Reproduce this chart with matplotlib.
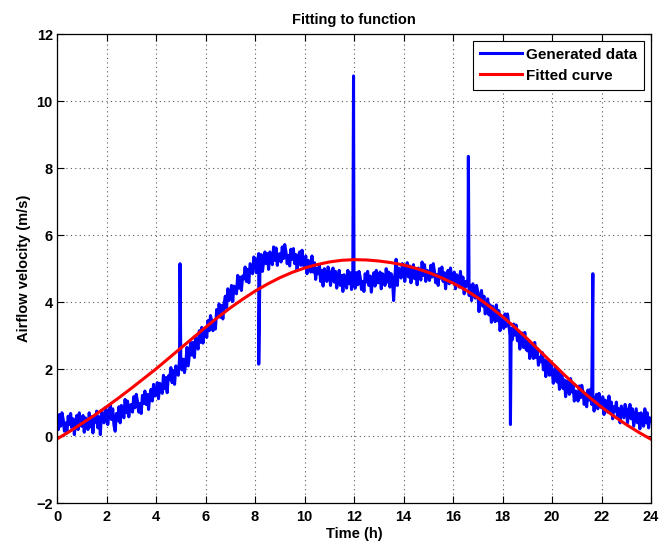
import numpy as np
import matplotlib
matplotlib.use('Agg')
import matplotlib.pyplot as plt

plt.rcParams['font.family'] = ['Liberation Sans', 'DejaVu Sans']
plt.rcParams['font.weight'] = 'bold'

t_data = np.linspace(0, 24, 481)
v_data = [
    # 0 h
    0.45, 0.20, 0.65, 0.30, 0.70, 0.50, 0.15, 0.40, 0.10, 0.60,
    0.35, 0.68, 0.25, 0.52, 0.05, 0.43, 0.62, 0.20, 0.70, 0.32,
    # 1 h
    0.30, 0.62, 0.12, 0.55, 0.42, 0.20, 0.70, 0.28, 0.58, 0.10,
    0.53, 0.42, 0.75, 0.25, 0.58, 0.05, 0.72, 0.58, 0.40, 0.85,
    # 2 h
    0.78, 0.35, 0.70, 0.92, 0.50, 0.82, 0.33, 0.15, 0.68, 0.48,
    0.88, 0.40, 0.92, 0.80, 0.55, 1.10, 0.70, 1.05, 0.58, 0.92,
    # 3 h
    0.95, 0.72, 1.18, 0.85, 1.25, 1.05, 0.72, 0.98, 0.68, 1.22,
    0.98, 1.35, 0.95, 1.25, 0.80, 1.22, 1.40, 1.05, 1.55, 1.20,
    # 4 h
    1.25, 1.60, 1.12, 1.58, 1.47, 1.28, 1.82, 1.42, 1.75, 1.30,
    1.80, 1.70, 2.05, 1.60, 1.95, 1.55, 2.10, 1.98, 1.82, 2.30,
    # 5 h
    2.38, 1.98, 2.30, 1.90, 2.18, 2.65, 2.10, 2.45, 2.80, 2.42,
    2.80, 2.35, 2.95, 2.75, 2.60, 3.15, 2.80, 3.25, 2.78, 3.15,
    # 6 h
    3.15, 2.95, 3.45, 3.15, 3.60, 3.45, 3.15, 3.45, 3.20, 3.78,
    3.58, 3.95, 3.55, 3.90, 3.50, 3.95, 4.18, 3.82, 4.40, 4.05,
    # 7 h
    4.15, 4.50, 4.02, 4.48, 4.40, 4.25, 4.80, 4.42, 4.75, 4.35,
    4.78, 4.70, 5.05, 4.62, 4.98, 4.58, 5.15, 5.00, 4.85, 5.35,
    # 8 h
    5.30, 4.88, 5.22, 5.45, 5.05, 5.42, 4.92, 5.20, 5.50, 5.15,
    5.45, 4.98, 5.50, 5.35, 5.12, 5.65, 5.25, 5.62, 5.10, 5.42,
    # 9 h
    5.45, 5.20, 5.65, 5.30, 5.72, 5.50, 5.15, 5.40, 5.08, 5.58,
    5.28, 5.60, 5.15, 5.42, 4.95, 5.35, 5.50, 5.10, 5.55, 5.12,
    # 10 h
    5.05, 5.38, 4.85, 5.25, 5.15, 4.90, 5.38, 4.90, 5.18, 4.68,
    5.00, 4.85, 5.12, 4.62, 4.95, 4.48, 5.00, 4.82, 4.62, 5.05,
    # 11 h
    4.92, 4.50, 4.82, 5.02, 4.60, 4.92, 4.42, 4.65, 4.95, 4.50,
    4.80, 4.32, 4.82, 4.68, 4.42, 4.95, 4.55, 4.88, 4.38, 4.70,
    # 12 h
    4.68, 4.42, 4.88, 4.52, 4.92, 4.75, 4.38, 4.62, 4.32, 4.85,
    4.60, 4.92, 4.50, 4.78, 4.30, 4.70, 4.88, 4.48, 4.95, 4.58,
    # 13 h
    4.58, 4.90, 4.40, 4.85, 4.72, 4.50, 5.00, 4.60, 4.90, 4.45,
    4.85, 4.72, 4.05, 4.75, 5.28, 4.50, 5.02, 4.92, 4.72, 5.15,
    # 14 h
    5.05, 4.62, 4.95, 5.18, 4.75, 5.08, 4.58, 4.82, 5.12, 4.70,
    5.00, 4.52, 5.02, 4.90, 4.66, 5.20, 4.80, 5.12, 4.62, 4.95,
    # 15 h
    4.90, 4.65, 5.10, 4.75, 5.15, 4.92, 4.58, 4.82, 4.50, 5.00,
    4.72, 5.05, 4.62, 4.88, 4.40, 4.80, 4.95, 4.55, 5.02, 4.65,
    # 16 h
    4.60, 4.90, 4.40, 4.82, 4.68, 4.45, 4.92, 4.48, 4.75, 4.25,
    4.62, 4.48, 4.70, 4.20, 4.50, 4.05, 4.55, 4.35, 4.12, 4.50,
    # 17 h
    4.30, 3.72, 4.15, 4.35, 3.88, 4.18, 3.65, 3.85, 4.10, 3.62,
    3.92, 3.40, 3.88, 3.70, 3.42, 3.92, 3.45, 3.75, 3.15, 3.50,
    # 18 h
    3.50, 3.22, 3.65, 3.28, 3.65, 3.38, 3.00, 3.22, 2.88, 3.35,
    3.02, 3.32, 2.85, 3.08, 2.60, 2.95, 3.08, 2.65, 3.10, 2.60,
    # 19 h
    2.55, 2.85, 2.32, 2.72, 2.58, 2.32, 2.80, 2.35, 2.62, 2.12,
    2.35, 2.22, 2.50, 1.98, 2.28, 1.78, 2.25, 2.05, 1.82, 2.20,
    # 20 h
    2.02, 1.58, 1.88, 2.08, 1.62, 1.92, 1.40, 1.62, 1.88, 1.42,
    1.68, 1.18, 1.65, 1.48, 1.25, 1.72, 1.32, 1.55, 1.05, 1.35,
    # 21 h
    1.30, 1.05, 1.50, 1.15, 1.52, 1.32, 0.95, 1.20, 0.88, 1.38,
    1.08, 1.40, 0.95, 1.22, 0.75, 1.10, 1.25, 0.82, 1.28, 0.90,
    # 22 h
    0.85, 1.18, 0.65, 1.08, 0.95, 0.72, 1.20, 0.75, 1.02, 0.52,
    0.88, 0.75, 1.02, 0.55, 0.82, 0.40, 0.90, 0.72, 0.55, 0.95,
    # 23 h
    0.82, 0.40, 0.72, 0.95, 0.52, 0.82, 0.30, 0.55, 0.82, 0.40,
    0.68, 0.22, 0.70, 0.55, 0.30, 0.82, 0.40, 0.70, 0.25, 0.55,
    # 24 h
    0.45,
]

# single-sample outliers in the generated data
t_spike = [4.97, 8.15, 11.98, 16.62, 18.32, 21.65]
v_spike = [5.15, 2.15, 10.75, 8.35, 0.35, 4.85]

# fitted curve, read every half hour
t_fit = np.linspace(0, 24, 49)
v_fit = [-0.08, 0.14, 0.38, 0.62, 0.88, 1.15, 1.43, 1.72, 2.01, 2.32,
         2.63, 2.94, 3.25, 3.55, 3.83, 4.09, 4.33, 4.54, 4.73, 4.89,
         5.02, 5.12, 5.20, 5.25, 5.27, 5.26, 5.23, 5.18, 5.11, 5.01,
         4.89, 4.74, 4.57, 4.37, 4.13, 3.86, 3.57, 3.25, 2.91, 2.55,
         2.19, 1.83, 1.49, 1.17, 0.87, 0.60, 0.35, 0.12, -0.09]

# merge spikes into the sampled series
t_all = np.concatenate([t_data, t_spike])
v_all = np.concatenate([v_data, v_spike])
order = np.argsort(t_all, kind='stable')
t_all = t_all[order]
v_all = v_all[order]

fig = plt.figure(figsize=(6.6, 5.45), dpi=100)
ax = fig.add_axes([0.0864, 0.0765, 0.9, 0.861])

ax.plot(t_all, v_all, color='#0000ff', linewidth=2.2, label='Generated data')
ax.plot(t_fit, v_fit, color='#ff0000', linewidth=2.2, label='Fitted curve')

ax.set_xlim(0, 24)
ax.set_ylim(-2, 12)
ax.set_xticks(np.arange(0, 25, 2))
ax.set_yticks(np.arange(-2, 13, 2))
ax.tick_params(direction='in', top=True, right=True, length=5, width=0.8,
               labelsize=10.5)
ax.tick_params(axis='x', pad=5)
ax.tick_params(axis='y', pad=3)
for lab in ax.get_xticklabels() + ax.get_yticklabels():
    lab.set_fontweight('bold')
ax.grid(True, linestyle=(0, (1, 3)), color='0.35', linewidth=0.8)
for s in ax.spines.values():
    s.set_linewidth(0.9)

ax.set_xlabel('Time (h)', fontsize=10.5, fontweight='bold', labelpad=2)
ax.set_ylabel('Airflow velocity (m/s)', fontsize=10.5, fontweight='bold', labelpad=4)
ax.set_title('Fitting to function', fontsize=10.5, fontweight='bold', pad=7)

leg = ax.legend(loc='upper right', fontsize=11, fancybox=False, framealpha=1,
                edgecolor='black', handlelength=2.7, borderpad=0.45,
                labelspacing=0.45, handletextpad=0.3, borderaxespad=0.45)
leg.get_frame().set_linewidth(0.8)
for txt in leg.get_texts():
    txt.set_fontweight('bold')

fig.savefig('out.png', dpi=100)
